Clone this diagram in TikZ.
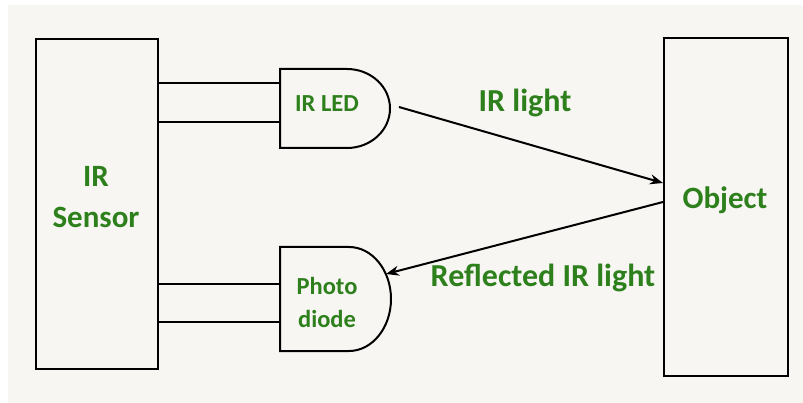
\documentclass[tikz,border=0pt]{standalone}
\usepackage{fontspec}
\setmainfont{Carlito}
\usetikzlibrary{arrows.meta}
\definecolor{bg}{RGB}{248,246,243}
\definecolor{txtgreen}{RGB}{45,128,28}
\tikzset{
  blockbox/.style={draw=black, line width=1.8pt, fill=bg, inner sep=0pt},
  lbl/.style={font=\bfseries, text=txtgreen, inner sep=0pt, align=center},
  wire/.style={draw=black, line width=2.2pt},
  gate/.style={draw=black, line width=2pt, fill=bg},
  ray/.style={draw=black, line width=2pt, -{Stealth[length=13pt,width=10pt]}}
}
\begin{document}
\begin{tikzpicture}[x=1pt,y=-1pt]
\fill[white] (0,0) rectangle (803,403);
\fill[bg] (8,5) rectangle (803,403);
\useasboundingbox (0,0) rectangle (803,403);

% IR sensor block
\node[blockbox, minimum width=122pt, minimum height=330pt] (sensor) at (97,204) {};
\node[lbl, font=\fontsize{31}{41}\selectfont\bfseries] (sensortxt) at (96,197) {IR\\Sensor};

% Object block
\node[blockbox, minimum width=124pt, minimum height=338pt] (object) at (726,207) {};
\node[lbl, font=\fontsize{31}{36}\selectfont\bfseries] (objtxt) at (725,200) {Object};

% IR LED gate
\draw[gate] (280,69) -- (347,69) arc[start angle=-90, end angle=90, x radius=43, y radius=39.5] -- (280,148) -- cycle;
\coordinate (ledA) at (280,83);
\coordinate (ledB) at (280,122);
\coordinate (ledOut) at (399,107);
\node[lbl, font=\fontsize{24.5}{28}\selectfont\bfseries] (ledtxt) at (327,104) {IR LED};

% Photodiode gate
\draw[gate] (280,247) -- (349,247) arc[start angle=-90, end angle=90, x radius=42, y radius=52] -- (280,351) -- cycle;
\coordinate (pdA) at (280,284);
\coordinate (pdB) at (280,322);
\coordinate (pdIn) at (386,274);
\node[lbl, font=\fontsize{24.5}{33}\selectfont\bfseries] (pdtxt) at (327,302) {Photo\\diode};

% wires
\draw[wire] (sensor.east |- ledA) -- (ledA);
\draw[wire] (sensor.east |- ledB) -- (ledB);
\draw[wire] (sensor.east |- pdA) -- (pdA);
\draw[wire] (sensor.east |- pdB) -- (pdB);

% rays
\coordinate (objIn) at (663,183);
\coordinate (objOut) at (663,202);
\draw[ray] (ledOut) -- (objIn);
\draw[ray] (objOut) -- (pdIn);

\node[lbl, font=\fontsize{32}{36}\selectfont\bfseries] (irlight) at (525,103) {IR light};
\node[lbl, font=\fontsize{32}{36}\selectfont\bfseries] (refl) at (543,278) {Reflected IR light};
\end{tikzpicture}
\end{document}
